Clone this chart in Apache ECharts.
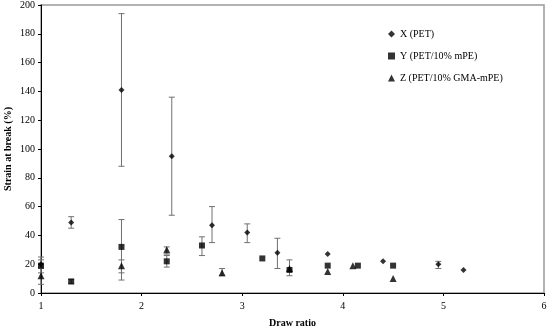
<!DOCTYPE html>
<html>
<head>
<meta charset="utf-8">
<script src="https://cdn.jsdelivr.net/npm/echarts@6/dist/echarts.min.js"></script>
<style>
    html, body { margin: 0; padding: 0; background: #fff; }
    #c1 { width: 550px; height: 332px; }
</style>
</head>
<body>
<div id="c1"></div>
<script>
// 数据
var seriesNames = ['X (PET)', 'Y (PET/10% mPE)', 'Z (PET/10% GMA-mPE)'];
var xTicks = [1, 2, 3, 4, 5, 6];
var yTicks = [0, 20, 40, 60, 80, 100, 120, 140, 160, 180, 200];

// X (PET)
var petRatio = [1.0, 1.3, 1.8, 2.3, 2.7, 3.05, 3.35, 3.85, 4.4, 4.95, 5.2];
var petStrain = [20, 49, 141, 95, 47, 42, 28, 27, 22, 20, 16];
var petErr = [[17, 23], [45, 53], [88, 194], [54, 136], [35, 60], [35, 48], [17, 38], null, null, [17, 22], null];

// Y (PET/10% mPE)
var mpeRatio = [1.0, 1.3, 1.8, 2.25, 2.6, 3.2, 3.47, 3.85, 4.15, 4.5];
var mpeStrain = [19, 8, 32, 22, 33, 24, 16, 19, 19, 19];
var mpeErr = [[14, 25], [6.5, 9.5], [14, 51], [18, 26], [26, 39], null, [12, 23], null, null, null];

// Z (PET/10% GMA-mPE)
var gmaRatio = [1.0, 1.8, 2.25, 2.8, 3.47, 3.85, 4.1, 4.5];
var gmaStrain = [12, 19, 30, 14, 17, 15, 19, 10];
var gmaErr = [[6, 18], [9, 23], [27, 32], [12, 17], null, null, null, null];

initChart();

//初始化图表
function initChart() {
    var chart = echarts.init(document.getElementById('c1'), null, {renderer: 'canvas'});
    var font = '"Liberation Serif", "DejaVu Serif", serif';

    //点数据
    function pts(xs, ys) {
        return xs.map(function (x, i) { return [x, ys[i]]; });
    }
    //误差线数据
    function errs(xs, es) {
        var out = [];
        xs.forEach(function (x, i) {
            if (es[i]) out.push([x, es[i][0], es[i][1]]);
        });
        return out;
    }
    var errData = [].concat(errs(petRatio, petErr), errs(mpeRatio, mpeErr), errs(gmaRatio, gmaErr));

    var opt = {
        animation: false,
        backgroundColor: '#fff',
        grid: {
            left: 41, right: 6, top: 5, bottom: 39,
            outerBoundsMode: 'none', containLabel: false,
            show: true, borderColor: '#999', borderWidth: 1.5
        },
        legend: {
            data: seriesNames,
            orient: 'vertical',
            left: 383,
            top: 24,
            itemGap: 12,
            itemWidth: 7,
            itemHeight: 7,
            textStyle: {fontFamily: font, fontSize: 10, color: '#000'}
        },
        xAxis: {
            type: 'value',
            min: xTicks[0],
            max: xTicks[xTicks.length - 1],
            interval: 1,
            name: 'Draw ratio',
            nameLocation: 'middle',
            nameGap: 25,
            nameMoveOverlap: false,
            nameTextStyle: {fontFamily: font, fontSize: 10, fontWeight: 'bold', color: '#000'},
            axisLine: {lineStyle: {color: '#000', width: 1}},
            axisTick: {length: 3, lineStyle: {color: '#000'}},
            axisLabel: {fontFamily: font, fontSize: 10, color: '#000', margin: 8},
            splitLine: {show: false}
        },
        yAxis: {
            type: 'value',
            min: yTicks[0],
            max: yTicks[yTicks.length - 1],
            interval: 20,
            name: 'Strain at break (%)',
            nameLocation: 'middle',
            nameGap: 28,
            nameMoveOverlap: false,
            nameTextStyle: {fontFamily: font, fontSize: 10, fontWeight: 'bold', color: '#000'},
            axisLine: {show: true, lineStyle: {color: '#000', width: 1}},
            axisTick: {show: true, length: 3, lineStyle: {color: '#000'}},
            axisLabel: {fontFamily: font, fontSize: 10, color: '#000', margin: 6},
            splitLine: {show: false}
        },
        series: [
            {
                type: 'custom',
                name: 'err',
                data: errData,
                z: 1,
                silent: true,
                renderItem: function (params, api) {
                    var x = api.value(0);
                    var lo = api.coord([x, api.value(1)]);
                    var hi = api.coord([x, api.value(2)]);
                    var w = 3;
                    var st = {stroke: '#707070', lineWidth: 1};
                    return {
                        type: 'group',
                        children: [
                            {type: 'line', shape: {x1: lo[0], y1: lo[1], x2: hi[0], y2: hi[1]}, style: st},
                            {type: 'line', shape: {x1: lo[0] - w, y1: lo[1], x2: lo[0] + w, y2: lo[1]}, style: st},
                            {type: 'line', shape: {x1: hi[0] - w, y1: hi[1], x2: hi[0] + w, y2: hi[1]}, style: st}
                        ]
                    };
                }
            },
            {
                type: 'scatter', name: seriesNames[0], symbol: 'diamond', symbolSize: 6, z: 3,
                itemStyle: {color: '#000'}, data: pts(petRatio, petStrain)
            },
            {
                type: 'scatter', name: seriesNames[1], symbol: 'rect', symbolSize: 6, z: 3,
                itemStyle: {color: '#000'}, data: pts(mpeRatio, mpeStrain)
            },
            {
                type: 'scatter', name: seriesNames[2], symbol: 'triangle', symbolSize: 7, z: 3,
                itemStyle: {color: '#000'}, data: pts(gmaRatio, gmaStrain)
            }
        ]
    };
    chart.setOption(opt);
}
</script>
</body>
</html>
